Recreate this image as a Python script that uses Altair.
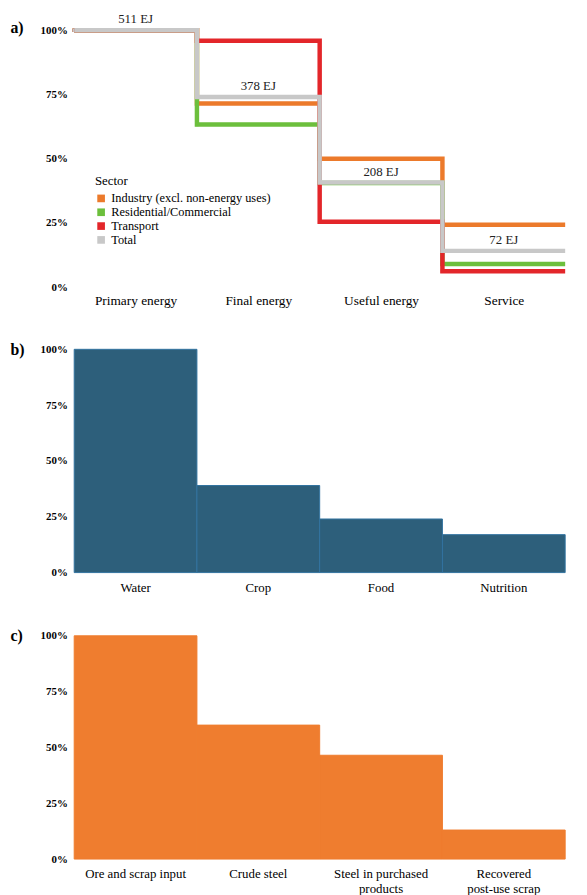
import altair as alt
import pandas as pd

# ---- panel a: energy ----
stages = ["Primary energy", "Final energy", "Useful energy", "Service"]
sectors = ["Industry (excl. non-energy uses)", "Residential/Commercial", "Transport", "Total"]
industry = [100, 71.5, 50.0, 24.3]
residential = [100, 63.3, 40.5, 9.0]
transport = [100, 95.9, 25.4, 6.2]
total = [100, 74.0, 40.7, 14.1]
total_ej = ["511 EJ", "378 EJ", "208 EJ", "72 EJ"]
sector_colors = ["#ec7a2b", "#6cbf3c", "#e3262a", "#c8c8c8"]

# ---- panel b: food ----
food_stages = ["Water", "Crop", "Food", "Nutrition"]
food_values = [100, 39, 24, 17]

# ---- panel c: steel ----
steel_stages = ["Ore and scrap input", "Crude steel", "Steel in purchased\nproducts", "Recovered\npost-use scrap"]
steel_values = [100, 60, 46.5, 13]

SERIF = "Liberation Serif"
W = 497

rows = []
for name, vals in zip(sectors, [industry, residential, transport, total]):
    for i, v in enumerate(vals):
        rows.append({"sector": name, "pos": i, "share": v})
    rows.append({"sector": name, "pos": len(vals), "share": vals[-1]})
line_df = pd.DataFrame(rows)
label_df = pd.DataFrame({"pos": [i + 0.5 for i in range(len(stages))], "share": total, "label": total_ej})

stage_expr = "[" + ",".join("'" + s + "'" for s in stages) + "][floor(datum.value)]"


def y_axis(title, title_y=0):
    return alt.Axis(values=[0, 25, 50, 75, 100], labelExpr="datum.value + '%'", labelFont=SERIF,
                    labelFontWeight="bold", labelFontSize=11, labelColor="black", labelPadding=7,
                    domain=False, ticks=False, grid=False, title=title, titleAngle=0,
                    titleAlign="left", titleBaseline="middle", titleX=-65, titleY=title_y,
                    titleFont=SERIF, titleFontSize=16, titleFontWeight="bold", titleColor="black")


x_a = alt.X("pos:Q", scale=alt.Scale(domain=[0, 4], nice=False, zero=False),
            axis=alt.Axis(values=[0.5, 1.5, 2.5, 3.5], labelExpr=stage_expr, title=None, domain=False,
                          ticks=False, grid=False, labelFont=SERIF, labelFontSize=13.5, labelColor="black",
                          labelPadding=7))
y_a = alt.Y("share:Q", scale=alt.Scale(domain=[0, 100]), axis=y_axis("a)", -3))
color_scale = alt.Scale(domain=sectors, range=sector_colors)
color_leg = alt.Color("sector:N", scale=color_scale,
                      legend=alt.Legend(orient="none", legendX=21, legendY=147, title="Sector",
                                        titleFont=SERIF, labelFont=SERIF, symbolType="square",
                                        symbolStrokeWidth=0, symbolSize=60))
color_nol = alt.Color("sector:N", scale=color_scale, legend=None)

base_a = alt.Chart(line_df)
# small squares at the step corners (hidden beneath the lines) carry the filled-square legend
corner_marks = base_a.transform_filter(alt.datum.pos < 4).mark_square(size=12, opacity=1).encode(
    x=x_a, y=y_a, color=color_leg)
sector_lines = base_a.transform_filter(alt.datum.sector != "Total").mark_line(
    interpolate="step-after", strokeWidth=4.5, strokeCap="butt", strokeJoin="miter").encode(
    x=x_a, y=y_a, color=color_nol)
total_line = base_a.transform_filter(alt.datum.sector == "Total").mark_line(
    interpolate="step-after", strokeWidth=4.5, strokeCap="butt", strokeJoin="miter").encode(
    x=x_a, y=y_a, color=color_nol)
labels = alt.Chart(label_df).mark_text(dy=-7, baseline="alphabetic", font=SERIF, fontSize=13,
                                       color="#222222").encode(x="pos:Q", y="share:Q", text="label:N")
panel_a = alt.layer(corner_marks, sector_lines, total_line, labels).properties(width=W, height=260)


def bar_panel(cats, vals, title, fill, stroke):
    df = pd.DataFrame({"stage": cats, "share": vals})
    return alt.Chart(df).mark_bar(color=fill, stroke=stroke, strokeWidth=1).encode(
        x=alt.X("stage:N", sort=cats, scale=alt.Scale(paddingInner=0, paddingOuter=0),
                axis=alt.Axis(labelAngle=0, title=None, domain=False, ticks=False, labelFont=SERIF,
                              labelFontSize=13, labelColor="black", labelPadding=9, labelLineHeight=15,
                              labelExpr="split(datum.label, '\\n')")),
        y=alt.Y("share:Q", scale=alt.Scale(domain=[0, 100]), axis=y_axis(title)),
    ).properties(width=W, height=226)


panel_b = bar_panel(food_stages, food_values, "b)", "#2d5f7b", "#3273a0")
panel_c = bar_panel(steel_stages, steel_values, "c)", "#ef7d2f", "#ef7d2f")

chart = alt.vconcat(panel_a, panel_b, panel_c, spacing=34).properties(
    padding={"left": 2, "top": 0, "right": 5, "bottom": 5}, background="white"
).configure(font=SERIF).configure_view(stroke=None).configure_legend(
    titleFont=SERIF, titleFontWeight="normal", titleFontSize=13, titleColor="black", titlePadding=4,
    labelFont=SERIF, labelFontSize=12.5, labelColor="black", labelLimit=300, symbolType="square",
    symbolSize=60, symbolStrokeWidth=0, rowPadding=1
)

chart.save("out.html", embed_options={"renderer": "svg", "actions": False})
